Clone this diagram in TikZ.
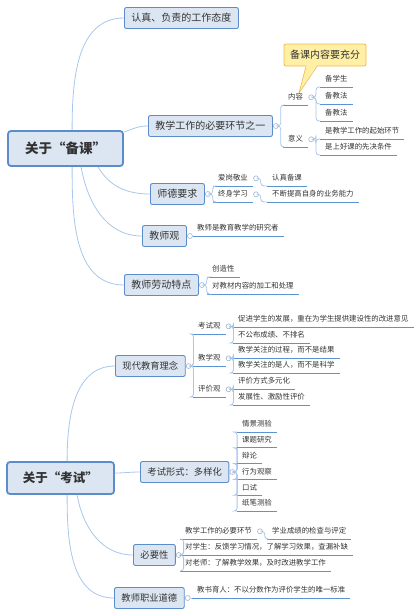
\documentclass[tikz,border=0pt]{standalone}
\usepackage{fontspec}
\setmainfont{Noto Sans CJK SC}
\definecolor{boxfill}{HTML}{DCE6F2}
\definecolor{boxline}{HTML}{5B8CCB}
\definecolor{branchline}{HTML}{A9C6EC}
\definecolor{ruleline}{HTML}{5B93D3}
\definecolor{knobline}{HTML}{A3B5CC}
\definecolor{inktext}{HTML}{333333}
\definecolor{notefill}{HTML}{FFF0A5}
\definecolor{noteline}{HTML}{F0B94A}
\tikzset{
  root/.style={draw=boxline, line width=1.8pt, fill=boxfill, rounded corners=3pt, text=inktext,
    font=\bfseries\fontsize{#1}{#1}\selectfont},
  topic/.style={draw=boxline, line width=0.9pt, fill=boxfill, rounded corners=2pt, text=inktext,
    inner xsep=7pt, anchor=west, minimum height=21pt, font=\fontsize{#1}{#1}\selectfont},
  topic/.default=10,
  rule/.style={draw=ruleline, line width=1pt},
  leaf/.style={anchor=south west, inner xsep=5pt, inner ysep=3.5pt, text height=6.5pt, text depth=1.5pt,
    text=inktext, font=\fontsize{7.4}{9}\selectfont,
    append after command={(\tikzlastnode.south west) edge[rule] (\tikzlastnode.south east)}},
  knob/.style={circle, draw=knobline, fill=white, line width=0.6pt, inner sep=0pt, minimum size=5pt},
  branch/.style={draw=branchline, line width=0.8pt},
  twig/.style={draw=branchline, line width=0.8pt, rounded corners=3pt},
  note/.style={draw=noteline, line width=0.8pt, fill=notefill, rounded corners=2pt, text=inktext,
    inner xsep=6pt, minimum height=22pt, font=\fontsize{10}{10}\selectfont}
}
\begin{document}
\begin{tikzpicture}[x=1pt,y=-1pt]
\useasboundingbox (0,0) rectangle (417,616);

%The two roots
	\node[root=13.5, minimum width=115pt, minimum height=35pt] (prep) at (65.5,148.5) {关于“备课”};
	\node[root=12.5, minimum width=107pt, minimum height=32pt] (exam) at (60.5,478) {关于“考试”};

%Where the branches leave the roots
	\coordinate (prep1) at ([xshift=65pt]prep.north west);
	\coordinate (prep2) at ([yshift=-2pt]prep.north east);
	\coordinate (prep3) at ([xshift=91pt]prep.south west);
	\coordinate (prep4) at ([xshift=74pt]prep.south west);
	\coordinate (prep5) at ([xshift=65pt]prep.south west);
	\coordinate (exam1) at ([xshift=61pt]exam.north west);
	\coordinate (exam2) at ([yshift=5pt]exam.east);
	\coordinate (exam3) at ([xshift=71pt]exam.south west);
	\coordinate (exam4) at ([xshift=61pt]exam.south west);

%Topics of the first root
	\node[topic] (duty) at (124,18) {认真、负责的工作态度};
	\node[topic] (must) at (148,126) {教学工作的必要环节之一};
	\node[topic] (ethic) at (150,194) {师德要求};
	\node[topic] (view) at (142,236) {教师观};
	\node[topic] (labour) at (124,285) {教师劳动特点};

	\draw[branch] (prep1) to[out=90,in=180] (duty.west);
	\draw[branch] (prep2) to[out=20,in=180] (must.west);
	\draw[branch] (prep3) to[out=-60,in=180] (ethic.west);
	\draw[branch] (prep4) to[out=-80,in=180] (view.west);
	\draw[branch] (prep5) to[out=-90,in=180] (labour.west);

%Topics of the second root
	\node[topic=9.3] (idea) at (115,366) {现代教育理念};
	\node[topic=9.3] (form) at (140,472) {考试形式：多样化};
	\node[topic=9.3] (need) at (133,555) {必要性};
	\node[topic=9.3] (moral) at (114,598) {教师职业道德};

	\draw[branch] (exam1) to[out=90,in=180] (idea.west);
	\draw[branch] (exam2) to[out=0,in=180] (form.west);
	\draw[branch] (exam3) to[out=-80,in=180] (need.west);
	\draw[branch] (exam4) to[out=-90,in=180] (moral.west);

%Knobs on the right of the topics
	\foreach \name in {must,ethic,view,labour,idea,form,need,moral}
		\node[knob] (\name-k) at ([xshift=3pt]\name.east) {};

%Leaves of the second topic
	\node[leaf] (cont) at (283,105) {内容};
	\node[leaf] (mean) at (283,147) {意义};
	\draw[twig] (must-k.east) -- ++(2,0) |- (cont.south west);
	\draw[twig] (must-k.east) -- ++(2,0) |- (mean.south west);
	\node[knob] (cont-k) at ([xshift=3pt]cont.east) {};
	\node[knob] (mean-k) at ([xshift=3pt]mean.east) {};

	\foreach \word/\y [count=\i] in {备学生/87,备教法/104,备教法/121}
		{
		\node[leaf] (cont\i) at (320,\y) {\word};
		\draw[twig] (cont-k.east) -- ++(2,0) |- (cont\i.south west);
		}
	\node[leaf] (mean1) at (320,139) {是教学工作的起始环节};
	\node[leaf] (mean2) at (320,155) {是上好课的先决条件};
	\draw[twig] (mean-k.east) -- ++(2,0) |- (mean1.south west);
	\draw[twig] (mean-k.east) -- ++(2,0) |- (mean2.south west);

%The yellow note with its tail
	\node[note] (tip) at (325,55) {备课内容要充分};
	\coordinate (tipend) at (299,93);
	\fill[notefill] ([xshift=-19pt,yshift=1.5pt]tip.south) -- (tipend) -- ([xshift=-8pt,yshift=1.5pt]tip.south) -- cycle;
	\draw[noteline, line width=0.6pt] ([xshift=-19pt]tip.south) -- (tipend) -- ([xshift=-8pt]tip.south);

%Leaves of the ethics topic
	\node[leaf] (love) at (213,186) {爱岗敬业};
	\node[leaf] (life) at (213,202) {终身学习};
	\draw[twig] (ethic-k.east) -- ++(2,0) |- (love.south west);
	\draw[twig] (ethic-k.east) -- ++(2,0) |- (life.south west);
	\node[knob] (love-k) at ([xshift=3pt]love.east) {};
	\node[knob] (life-k) at ([xshift=3pt]life.east) {};
	\node[leaf] (love1) at (267,186) {认真备课};
	\node[leaf] (life1) at (267,202) {不断提高自身的业务能力};
	\draw[twig] (love-k.east) -- ++(2,0) |- (love1.south west);
	\draw[twig] (life-k.east) -- ++(2,0) |- (life1.south west);

%Leaves of the view and labour topics
	\node[leaf] (view1) at (192,236) {教师是教育教学的研究者};
	\draw[twig] (view-k.east) -- (view1.south west);
	\node[leaf] (labour1) at (207,277) {创造性};
	\node[leaf] (labour2) at (207,294) {对教材内容的加工和处理};
	\draw[twig] (labour-k.east) -- ++(2,0) |- (labour1.south west);
	\draw[twig] (labour-k.east) -- ++(2,0) |- (labour2.south west);

%Leaves of the idea topic
	\foreach \key/\word/\y in {tv/考试观/334,jv/教学观/366,pv/评价观/397}
		{
		\node[leaf] (\key) at (193,\y) {\word};
		\draw[twig] (idea-k.east) -- ++(2,0) |- (\key.south west);
		\node[knob] (\key-k) at ([xshift=3pt]\key.east) {};
		}
	\node[leaf] (tv1) at (233,327) {促进学生的发展，重在为学生提供建设性的改进意见};
	\node[leaf] (tv2) at (233,343) {不公布成绩、不排名};
	\node[leaf] (jv1) at (233,358) {教学关注的过程，而不是结果};
	\node[leaf] (jv2) at (233,373) {教学关注的是人，而不是科学};
	\node[leaf] (pv1) at (233,389) {评价方式多元化};
	\node[leaf] (pv2) at (233,405) {发展性、激励性评价};
	\foreach \key in {tv,jv,pv}
		{
		\draw[twig] (\key-k.east) -- ++(2,0) |- (\key1.south west);
		\draw[twig] (\key-k.east) -- ++(2,0) |- (\key2.south west);
		}

%Leaves of the form topic
	\foreach \word [count=\i] in {情景测验,课题研究,辩论,行为观察,口试,纸笔测验}
		{
		\node[leaf] (form\i) at (237,416.2+15.8*\i) {\word};
		\draw[twig] (form-k.east) -- ++(2,0) |- (form\i.south west);
		}

%Leaves of the need topic
	\node[leaf] (need1) at (180,539) {教学工作的必要环节};
	\node[leaf] (need2) at (180,555) {对学生：反馈学习情况，了解学习效果，查漏补缺};
	\node[leaf] (need3) at (180,571) {对老师：了解教学效果，及时改进教学工作};
	\foreach \i in {1,2,3}
		\draw[twig] (need-k.east) -- ++(2,0) |- (need\i.south west);
	\node[knob] (need1-k) at ([xshift=3pt]need1.east) {};
	\node[leaf] (need11) at (267,539) {学业成绩的检查与评定};
	\draw[twig] (need1-k.east) -- ++(2,0) |- (need11.south west);

%Leaf of the moral topic
	\node[leaf] (moral1) at (192,598) {教书育人：不以分数作为评价学生的唯一标准};
	\draw[twig] (moral-k.east) -- (moral1.south west);

\end{tikzpicture}
\end{document}
